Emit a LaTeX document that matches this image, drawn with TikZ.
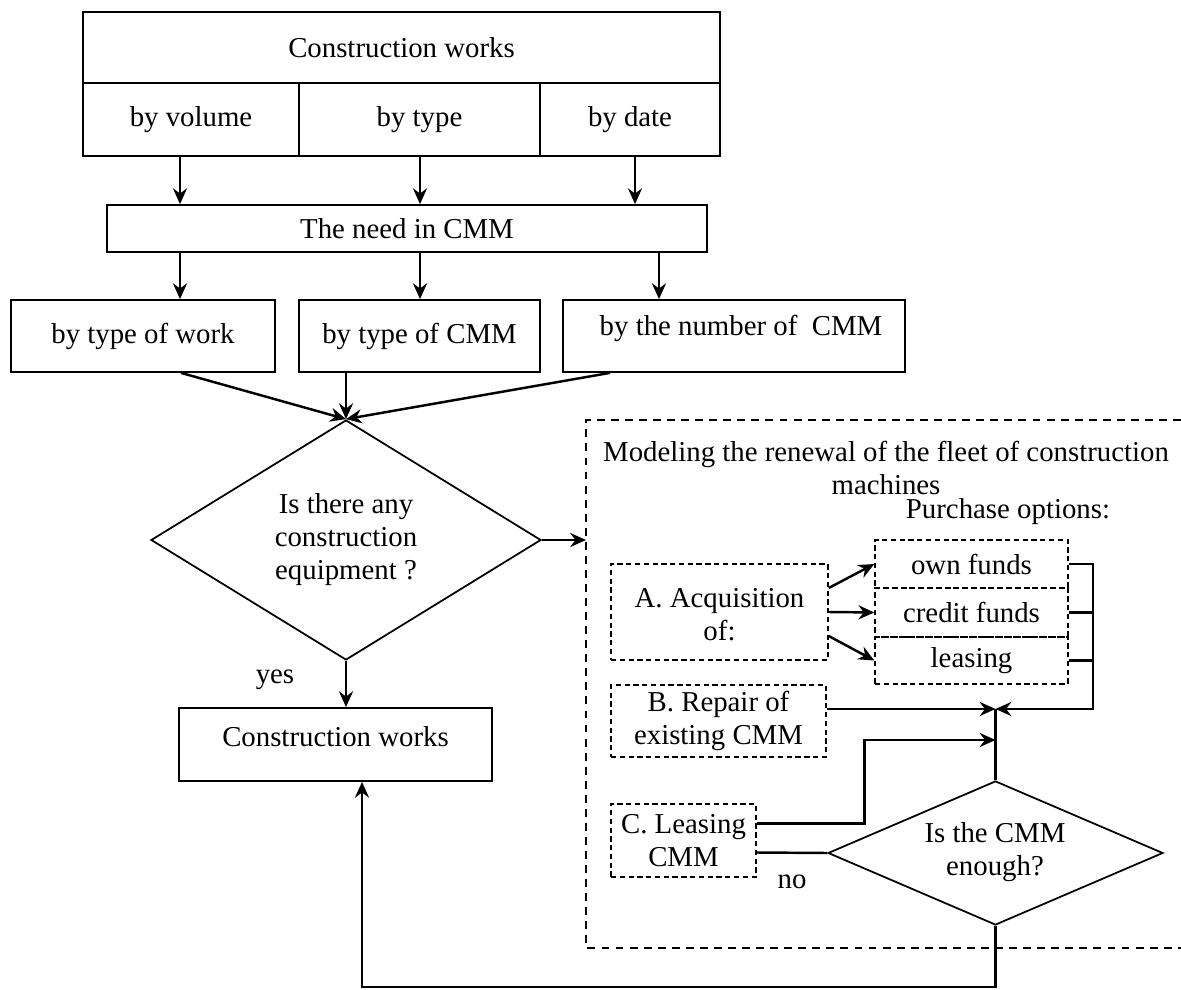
\documentclass[tikz,border=0pt]{standalone}
\usepackage{fontspec}
\setmainfont{Liberation Serif}
\usetikzlibrary{shapes.geometric,arrows.meta,calc}
\begin{document}
\def\PX{0.02cm}
\begin{tikzpicture}[x=0.02cm,y=-0.02cm,
  font=\fontsize{16.4}{18.8}\selectfont,
  sz/.style 2 args={minimum width=#1*\PX,minimum height=#2*\PX},
  box/.style={draw,line width=1pt,inner sep=0pt,align=center},
  dbox/.style={draw,line width=0.8pt,dash pattern=on 3pt off 2pt,inner sep=0pt,align=center},
  dia/.style={draw,diamond,line width=1pt,inner sep=0pt},
  conn/.style={line width=1.4pt},
  arr/.style={conn,-{Stealth[length=9pt,width=8pt,inset=3pt]}},
  txt/.style={inner sep=0pt,align=center}]
\useasboundingbox (0,0) rectangle (1181,990);

% top table
\node[box,sz={637}{71}] (ctop) at (401.5,47.5) {Construction works};
\node[box,sz={216}{73}] (bvol) at (191,119.5) {by volume};
\node[box,sz={241}{73}] (btype) at (419.5,119.5) {by type};
\node[box,sz={180}{73}] (bdate) at (630,119.5) {by date};

\node[box,sz={600}{47}] (need) at (407,228.5) {The need in CMM};

\node[box,sz={264}{72}] (w1) at (143,336) {by type of work};
\node[box,sz={241}{72}] (w2) at (419.5,336) {by type of CMM};
\node[box,sz={342}{72}] (w3) at (734,336) {};
\node[txt] (w3t) at (741,328) {by the number of\ \ CMM};

\coordinate (a1) at (180,0);
\coordinate (a2) at (420,0);
\coordinate (a3) at (635,0);
\coordinate (a4) at (659,0);
\draw[arr] (bvol.south -| a1) -- (need.north -| a1);
\draw[arr] (btype.south -| a2) -- (need.north -| a2);
\draw[arr] (bdate.south -| a3) -- (need.north -| a3);
\draw[arr] (need.south -| a1) -- (w1.north -| a1);
\draw[arr] (need.south -| a2) -- (w2.north -| a2);
\draw[arr] (need.south -| a4) -- (w3.north -| a4);

% decision 1
\node[dia,sz={390}{240}] (d1) at (346,540) {};
\node[txt] (d1t) at (346,540) {Is there any\\construction\\equipment ?};

\coordinate (b1) at (181,0);
\coordinate (b3) at (610,0);
\draw[arr] (w1.south -| b1) -- (d1.north);
\draw[arr] (w2.south -| d1.north) -- (d1.north);
\draw[arr] (w3.south -| b3) -- (d1.north);

% construction works (bottom)
\node[box,sz={313}{73}] (cw) at (335.5,744.5) {};
\node[txt] (cwt) at (335.5,737) {Construction works};
\node[txt] (yes) at (275,680) {yes};
\draw[arr] (d1.south) -- (cw.north -| d1.south);

% outer dashed region
\draw[line width=0.9pt,dash pattern=on 4.5pt off 3.5pt] (1181,420) -- (586,420) -- (586,948) -- (1181,948);
\coordinate (oL) at (586,540);
\draw[arr] (d1.east) -- (oL);

\node[txt] (title) at (886,468) {Modeling the renewal of the fleet of construction\\machines};
\node[txt] (popt) at (1008,512) {Purchase options:};

% inner boxes
\node[dbox,sz={217}{96}] (A) at (719.5,612) {};
\node[txt] (At) at (719.5,615) {A. Acquisition\\of:};
\node[dbox,sz={193}{48}] (own) at (971.5,564) {own funds};
\node[dbox,sz={193}{49}] (cred) at (971.5,612.5) {credit funds};
\node[dbox,sz={193}{47}] (leas) at (971.5,660.5) {leasing};
\node[dbox,sz={215}{72}] (B) at (718.5,721) {B. Repair of\\existing CMM};
\node[dbox,sz={145}{73}] (C) at (683.5,840.5) {C. Leasing\\CMM};

\draw[arr] ($(A.east)+(0,-24)$) -- (own.west);
\draw[arr] (A.east) -- (cred.west);
\draw[arr] ($(A.east)+(0,24)$) -- (leas.west);

% decision 2
\node[dia,sz={335}{144}] (d2) at (995.5,853) {};
\node[txt] (d2t) at (995,852) {Is the CMM\\enough?};

\coordinate (J) at (995.5,709);
\coordinate (K) at (995.5,740);
\coordinate (R) at (1093,709);
\draw[arr] (own.east) -| (R) -- (J);
\draw[conn] (cred.east) -- (cred.east -| R);
\draw[conn] (leas.east) -- (leas.east -| R);
\draw[arr] (B.east |- J) -- (J);
\draw[conn] (J) -- (d2.north);
\draw[arr] ($(C.east)+(0,-17)$) -| ($(K)+(-131,0)$) -- (K);
\draw[conn] ($(C.east)+(0,12)$) -- (d2.west);
\node[txt] (no) at (792,882) {no};

% loop back
\coordinate (lb) at (362,987);
\draw[arr] (d2.south) |- (lb) -- (lb |- cw.south);
\end{tikzpicture}
\end{document}
